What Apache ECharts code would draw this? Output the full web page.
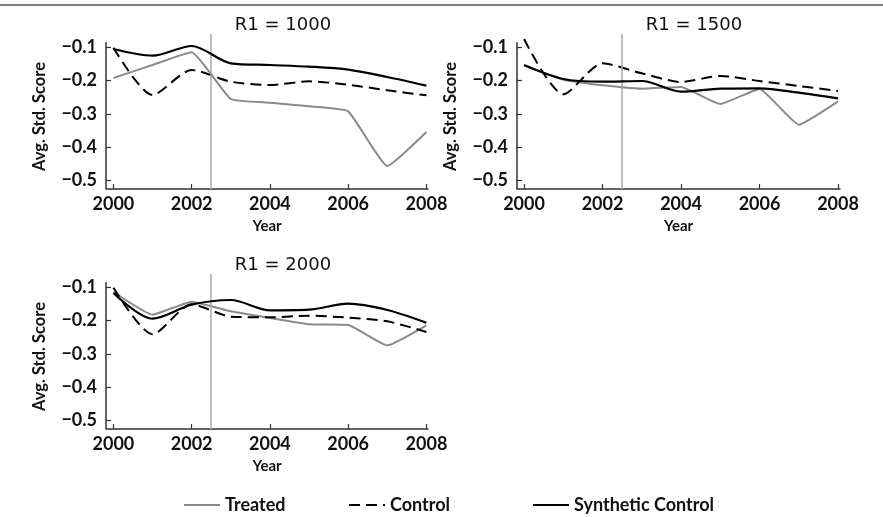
<!DOCTYPE html>
<html>
<head>
<meta charset="utf-8">
<script src="https://cdn.jsdelivr.net/npm/echarts@6/dist/echarts.min.js"></script>
<style>
  html, body { margin: 0; padding: 0; background: #fff; }
  #chart { width: 883px; height: 517px; }
</style>
</head>
<body>
<div id="chart"></div>
<script>
// Yearly averages of standardized scores, 2000-2008
const years = [2000, 2001, 2002, 2003, 2004, 2005, 2006, 2007, 2008];
const xTicks = [2000, 2002, 2004, 2006, 2008];
const yTicks = [-0.5, -0.4, -0.3, -0.2, -0.1];
const treatmentYear = 2002.5;
const panelTitles = ['R1 = 1000', 'R1 = 1500', 'R1 = 2000'];
const seriesNames = ['Treated', 'Control', 'Synthetic Control'];

// R1 = 1000
const treated1000 = [-0.192, -0.153, -0.115, -0.255, -0.266, -0.277, -0.292, -0.456, -0.354];
const control1000 = [-0.101, -0.243, -0.168, -0.203, -0.213, -0.202, -0.212, -0.229, -0.244];
const synth1000   = [-0.105, -0.125, -0.096, -0.148, -0.153, -0.158, -0.167, -0.189, -0.215];

// R1 = 1500
const treated1500 = [-0.155, -0.197, -0.214, -0.224, -0.219, -0.270, -0.225, -0.332, -0.262];
const control1500 = [-0.075, -0.241, -0.148, -0.178, -0.204, -0.186, -0.201, -0.216, -0.231];
const synth1500   = [-0.153, -0.195, -0.203, -0.201, -0.233, -0.224, -0.223, -0.236, -0.253];

// R1 = 2000
const treated2000 = [-0.114, -0.182, -0.143, -0.172, -0.192, -0.211, -0.213, -0.274, -0.214];
const control2000 = [-0.101, -0.241, -0.151, -0.188, -0.190, -0.185, -0.191, -0.202, -0.234];
const synth2000   = [-0.117, -0.194, -0.152, -0.138, -0.169, -0.167, -0.149, -0.168, -0.206];

const panelData = [
  [treated1000, control1000, synth1000],
  [treated1500, control1500, synth1500],
  [treated2000, control2000, synth2000]
];

const FONT = 'Lato, "DejaVu Sans", sans-serif';
const TITLE_FONT = '"DejaVu Sans", sans-serif';
const INK = '#111';
const AXIS = '#333';

const panels = [
  { left: 106, top: 34,  width: 322, height: 155, xMin: 1999.81, xMax: 2008.04, titleX: 278, titleY: 11 },
  { left: 517, top: 34,  width: 323, height: 155, xMin: 1999.82, xMax: 2008.05, titleX: 689, titleY: 11 },
  { left: 106, top: 274, width: 322, height: 155, xMin: 1999.81, xMax: 2008.04, titleX: 278, titleY: 251 }
];
const yMin = -0.525, yMax = -0.06, ySpineTop = -0.085;

const yFmt = v => v.toFixed(1).replace('-', '\u2212');
const xFmt = v => String(Math.round(v));

const lineStyles = [
  { color: '#8a8a8a', width: 2, type: 'solid' },
  { color: '#000', width: 2, type: [11, 6] },
  { color: '#000', width: 2.2, type: 'solid' }
];
const smoothing = [0.12, 0.25, 0.3];

const series = [];
panels.forEach((p, i) => {
  panelData[i].forEach((vals, s) => {
    series.push({
      name: seriesNames[s],
      type: 'line',
      xAxisIndex: i, yAxisIndex: i,
      data: years.map((yr, k) => [yr, vals[k]]),
      symbol: 'none',
      smooth: smoothing[s],
      clip: false,
      z: 3 + s,
      lineStyle: lineStyles[s],
      itemStyle: { color: lineStyles[s].color }
    });
  });
  // treatment-year reference line and the left spine
  series.push({
    type: 'line',
    xAxisIndex: i, yAxisIndex: i,
    data: [],
    silent: true,
    markLine: {
      silent: true,
      symbol: 'none',
      label: { show: false },
      animation: false,
      data: [
        [{ coord: [treatmentYear, yMin], lineStyle: { color: '#a8a8a8', width: 1.5, type: 'solid' } },
         { coord: [treatmentYear, yMax] }],
        [{ coord: [p.xMin, yMin], lineStyle: { color: AXIS, width: 1.5, type: 'solid' } },
         { coord: [p.xMin, ySpineTop] }]
      ]
    }
  });
});

const option = {
  animation: false,
  backgroundColor: '#fff',
  title: panels.map((p, i) => ({
    text: panelTitles[i],
    left: p.titleX,
    top: p.titleY,
    textAlign: 'center',
    textStyle: { fontFamily: TITLE_FONT, fontSize: 18, fontWeight: 'normal', color: INK }
  })),
  legend: seriesNames.map((n, k) => ({
    data: [n],
    left: [183, 348, 532][k],
    top: 496,
    padding: 0,
    itemWidth: 36,
    itemHeight: 14,
    itemGap: 0,
    selectedMode: false,
    itemStyle: { opacity: 0 },
    textStyle: { fontFamily: FONT, fontSize: 18, fontWeight: 'bold', color: INK }
  })),
  graphic: [{
    type: 'line',
    shape: { x1: 0, y1: 5, x2: 883, y2: 5 },
    style: { stroke: '#555', lineWidth: 1.5 }
  }],
  grid: panels.map(p => ({ left: p.left, top: p.top, width: p.width, height: p.height })),
  xAxis: panels.map((p, i) => ({
    type: 'value',
    gridIndex: i,
    min: p.xMin, max: p.xMax,
    name: 'Year',
    nameLocation: 'middle',
    nameGap: 30,
    nameTextStyle: { fontFamily: FONT, fontSize: 15, fontWeight: 'bold', color: INK },
    axisLine: { show: true, lineStyle: { color: AXIS, width: 1.5 } },
    axisTick: { show: true, inside: true, length: 5, customValues: xTicks, lineStyle: { color: AXIS, width: 1.2 } },
    axisLabel: { customValues: xTicks, margin: 6, fontFamily: FONT, fontSize: 18, fontWeight: 'bold', color: INK, formatter: xFmt },
    splitLine: { show: false }
  })),
  yAxis: panels.map((p, i) => ({
    type: 'value',
    gridIndex: i,
    min: yMin, max: yMax,
    name: 'Avg. Std. Score',
    nameLocation: 'middle',
    nameGap: 58,
    nameRotate: 90,
    nameTextStyle: { fontFamily: FONT, fontSize: 16.5, fontWeight: 'bold', color: INK, padding: [0, 10, 0, 0] },
    axisLine: { show: false },
    axisTick: { show: true, inside: true, length: 5, customValues: yTicks, lineStyle: { color: AXIS, width: 1.2 } },
    axisLabel: { customValues: yTicks, margin: 9, fontFamily: FONT, fontSize: 18, fontWeight: 'bold', color: INK, formatter: yFmt },
    splitLine: { show: false }
  })),
  series: series
};

const chart = echarts.init(document.getElementById('chart'), null, { renderer: 'canvas' });
chart.setOption(option);
</script>
</body>
</html>
